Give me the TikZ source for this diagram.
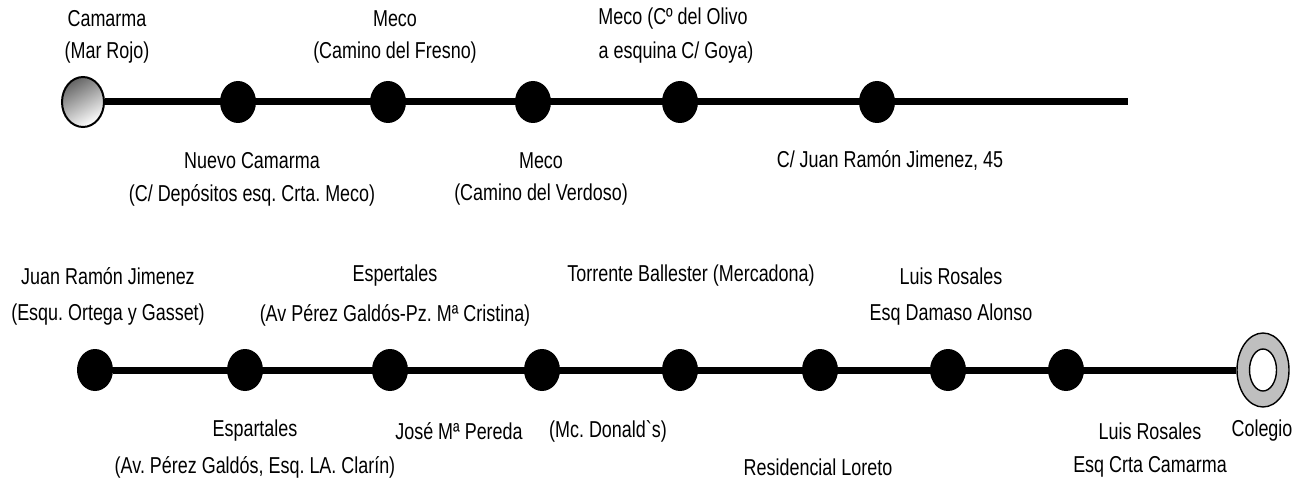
\documentclass[tikz,border=0pt]{standalone}
\usepackage{fontspec}
\setmainfont{Liberation Sans}[FakeStretch=0.78]
\newfontfamily\rawfont{Liberation Sans}[FakeStretch=0.78]
\usetikzlibrary{shapes.geometric}
\frenchspacing
\begin{document}
\begin{tikzpicture}[x=1pt,y=-1pt,
  stop/.style={ellipse,fill=black,inner sep=0,minimum width=36pt,minimum height=42pt},
  route/.style={line width=7pt},
  lbl/.style={font=\fontsize{23}{26}\selectfont\frenchspacing,inner sep=0,align=center}]
\useasboundingbox (0,0) rectangle (1308,481);
% top row
\coordinate (tend) at (1128,102);
\node[ellipse,draw=black,line width=2pt,inner sep=0,minimum width=42pt,minimum height=50pt,
  left color=black!60,right color=white,shading angle=30] (t0) at (83,102) {};
\draw[route] (t0) -- (tend);
\node[stop] (t1) at (238,102) {};
\node[stop] (t2) at (388,102) {};
\node[stop] (t3) at (533,102) {};
\node[stop] (t4) at (680,102) {};
\node[stop] (t5) at (877,102) {};
% bottom row
\node[ellipse,draw=black,line width=1.4pt,fill=black!25,inner sep=0,minimum width=52pt,minimum height=74pt] (b9) at (1263,370) {};
\node[stop] (b1) at (95,370) {};
\draw[route] (b1) -- (b9);
\node[stop] (b2) at (245,370) {};
\node[stop] (b3) at (390,370) {};
\node[stop] (b4) at (542,370) {};
\node[stop] (b5) at (680,370) {};
\node[stop] (b6) at (820,370) {};
\node[stop] (b7) at (948,370) {};
\node[stop] (b8) at (1066,370) {};
\node[ellipse,draw=black,line width=1.4pt,fill=white,inner sep=0,minimum width=27pt,minimum height=42pt] (b9i) at (1263,370) {};
% labels top
\node[lbl] (l1a) at (107,19) {Camarma};
\node[lbl] (l1b) at (107,53) {(Mar Rojo)};
\node[lbl] (l2a) at (395,19) {Meco};
\node[lbl] (l2b) at (395,53) {(Camino del Fresno)};
\node[lbl] (l3a) at (673,19) {Meco (Cº del Olivo};
\node[lbl] (l3b) at (676,53) {a esquina C/ Goya)};
\node[lbl] (l4a) at (252,161) {Nuevo Camarma};
\node[lbl] (l4b) at (252,195) {(C/ Depósitos esq. Crta. Meco)};
\node[lbl] (l5a) at (541,161) {Meco};
\node[lbl] (l5b) at (541,195) {(Camino del Verdoso)};
\node[lbl] (l6a) at (890,161) {C/ Juan Ramón Jimenez, 45};
% labels bottom
\node[lbl] (m1a) at (108,276) {Juan Ramón Jimenez};
\node[lbl] (m1b) at (108,315) {(Esqu. Ortega y Gasset)};
\node[lbl] (m2a) at (395,276) {Espertales};
\node[lbl] (m2b) at (395,315) {(Av Pérez Galdós-Pz. Mª Cristina)};
\node[lbl] (m3a) at (691,276) {Torrente Ballester (Mercadona)};
\node[lbl] (m4a) at (951,276) {Luis Rosales};
\node[lbl] (m4b) at (951,315) {Esq Damaso Alonso};
\node[lbl] (n1a) at (255,431) {Espartales};
\node[lbl] (n1b) at (255,467) {(Av. Pérez Galdós, Esq. LA. Clarín)};
\node[lbl] (n2a) at (459,431) {José Mª Pereda};
\node[lbl] (n3a) at (608,431) {(Mc. Donald{\rawfont `}s)};
\node[lbl] (n4a) at (818,467) {Residencial Loreto};
\node[lbl] (n5a) at (1150,431) {Luis Rosales};
\node[lbl] (n5b) at (1150,467) {Esq Crta Camarma};
\node[lbl] (n6a) at (1262,431) {Colegio};
\end{tikzpicture}
\end{document}
